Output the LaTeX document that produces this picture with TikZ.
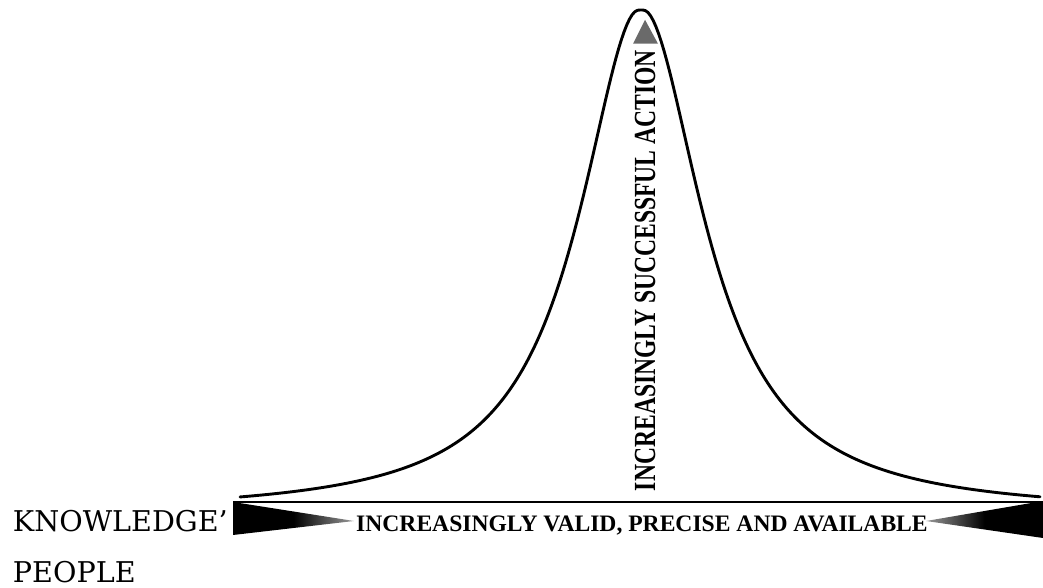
\documentclass[tikz,border=0pt]{standalone}
\usepackage{fontspec}
\setmainfont{DejaVu Serif}
\newfontfamily\scanfont{Liberation Serif}
\usetikzlibrary{positioning, calc}
\definecolor{dither}{HTML}{6A6A6A}

\begin{document}
\begin{tikzpicture}[x=1pt, y=1pt,
    every node/.style={inner sep=0pt},
    sidelbl/.style={font=\fontsize{28.6}{32}\selectfont},
    axislbl/.style={font=\scanfont\bfseries\fontsize{23.6}{27}\selectfont},
    bell/.style={line width=2.9pt, line join=round, line cap=round},
    wedge/.style={middle color=black}
]
\useasboundingbox (0,0) rectangle (1043,588);

% ends of the horizontal axis
\coordinate (lend) at (233,86);
\coordinate (rend) at (1043,86);

% the bell, with a rounded top
\draw[bell] plot[domain=-401:399, samples=301]
    ({641+\x}, {74+504/(1+(\x/75)*(\x/75)*((\x/10)*(\x/10)/((\x/10)*(\x/10)+0.36)))});
\draw[line width=2.6pt] (lend) -- (rend);

% black wedges under the axis
\shade[left color=black, right color=black!40, wedge] (233,86) -- (233,53) -- (354,67) -- cycle;
\shade[right color=black, left color=black!40, wedge] (1043,87) -- (1043,50) -- (926,67) -- cycle;

\node[axislbl, anchor=base] (valid) at (642,56)
    {INCREASINGLY VALID, PRECISE AND AVAILABLE};
\node[axislbl, rotate=90, yscale=1.3] (action) at (645,317.5)
    {INCREASINGLY SUCCESSFUL ACTION};
\fill[dither] ([xshift=-12pt,yshift=6pt]action.east) -- ([yshift=30pt]action.east)
    -- ([xshift=13pt,yshift=6pt]action.east) -- cycle;

\node[sidelbl, anchor=base east] (know) at (228,56) {KNOWLEDGE'};
\node[sidelbl, anchor=base west] (people) at ([yshift=-51pt]know.base west) {PEOPLE};

\end{tikzpicture}
\end{document}
